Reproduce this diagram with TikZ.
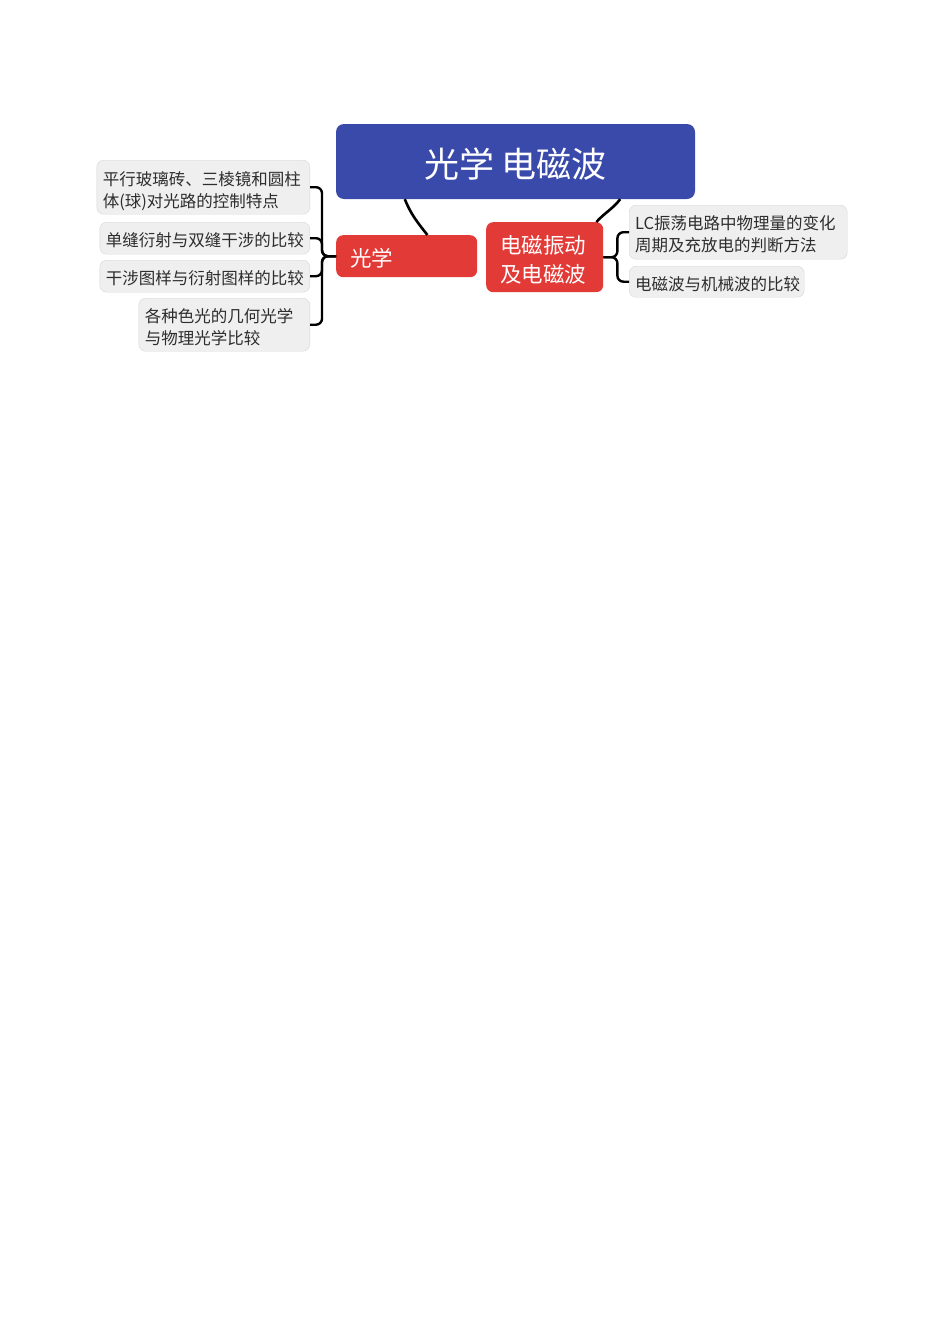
\documentclass[tikz,border=0pt]{standalone}
\usepackage{fontspec}
\setmainfont{Noto Sans CJK SC}
\definecolor{rootblue}{RGB}{58,74,170}
\definecolor{branchred}{RGB}{226,58,54}
\definecolor{leafgray}{RGB}{239,239,239}
\definecolor{leafline}{RGB}{214,214,214}
\definecolor{leaftext}{RGB}{45,45,45}
\begin{document}
\begin{tikzpicture}[x=1pt, y=-1pt,
root/.style={rectangle, rounded corners=8pt, fill=rootblue, text=white, font=\fontsize{35}{40}\selectfont, minimum width=359pt, minimum height=75pt, inner sep=0pt, execute at begin node={\rule{0pt}{1em}}},
branch/.style={rectangle, rounded corners=7pt, fill=branchred, text=white, font=\fontsize{21.5}{29}\selectfont, align=left, inner xsep=14pt, inner ysep=0pt, execute at begin node={\rule{0pt}{1.07em}}},
leaf/.style={rectangle, rounded corners=7pt, fill=leafgray, draw=leafline, text=leaftext, font=\fontsize{16.5}{22}\selectfont, align=left, inner xsep=6pt, inner ysep=0pt, execute at begin node={\rule{0pt}{1.12em}}},
link/.style={line width=2.6pt, black},
brace/.style={line width=2.4pt, black, rounded corners=6pt}
]
\useasboundingbox (0,0) rectangle (950,1344);
%Nodes
\node[root]   (root)  at (515.5,161.5)                                   {光学 电磁波};
\node[branch] (optic) [anchor=north west, text width=113pt, minimum height=42pt] at (336,235) {光学};
\node[branch] (emwave) [anchor=north west, text width=89pt, minimum height=70pt] at (486,222) {电磁振动\\及电磁波};
\node[leaf]   (glass) [anchor=north east, text width=201pt, minimum height=54pt, execute at begin node={\rule{0pt}{1.3em}}] at (310,160) {平行玻璃砖、三棱镜和圆柱\\体(球)对光路的控制特点};
\node[leaf]   (slit)  [anchor=north east, text width=198pt, minimum height=32pt] at (310,222) {单缝衍射与双缝干涉的比较};
\node[leaf]   (pattern) [anchor=north east, text width=198pt, minimum height=32pt] at (310,260) {干涉图样与衍射图样的比较};
\node[leaf]   (color) [anchor=north east, text width=159pt, minimum height=53pt] at (310,298) {各种色光的几何光学\\与物理光学比较};
\node[leaf]   (lc)    [anchor=north west, text width=206pt, minimum height=54pt] at (629,205) {LC振荡电路中物理量的变化\\周期及充放电的判断方法};
\node[leaf]   (mech)  [anchor=north west, text width=163pt, minimum height=31pt] at (629,266) {电磁波与机械波的比较};
%Lines
\draw[link] ([xshift=69pt]root.south west) to[out=-68, in=128] ([xshift=-50pt]optic.north east);
\draw[link] ([xshift=-75pt]root.south east) to[out=-128, in=48] ([xshift=-7pt]emwave.north east);
\foreach \leafname in {glass, slit, pattern, color}
  \draw[brace] (optic.west) -- ++(-14pt,0) |- (\leafname.east);
\foreach \leafname in {lc, mech}
  \draw[brace] (emwave.east) -- ++(14pt,0) |- (\leafname.west);
\end{tikzpicture}
\end{document}
